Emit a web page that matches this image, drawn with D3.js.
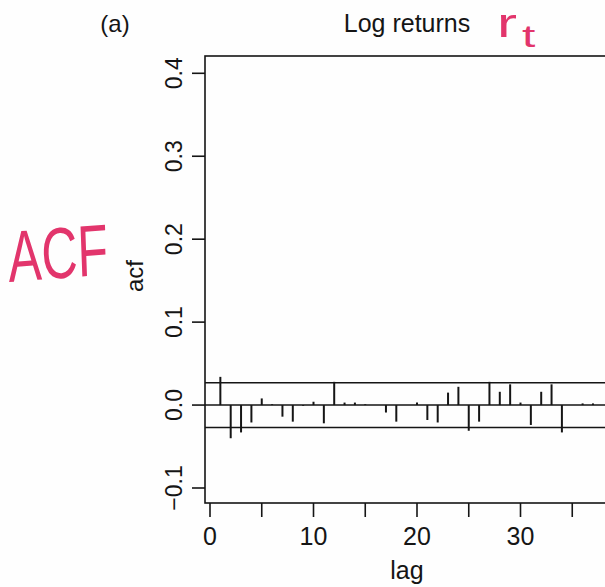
<!DOCTYPE html>
<html>
<head>
<meta charset="utf-8">
<script src="https://cdn.jsdelivr.net/npm/d3@7"></script>
<style>
  html, body { margin: 0; padding: 0; background: #fefefe; }
  svg { display: block; }
  text { font-family: "Liberation Sans", Arial, Helvetica, sans-serif; fill: #151515; }
</style>
</head>
<body>
<svg id="chart" width="605" height="587"></svg>
<script>
// Sample autocorrelations of daily log returns, lags 1..38
const lags = [1, 2, 3, 4, 5, 6, 7, 8, 9, 10,
              11, 12, 13, 14, 15, 16, 17, 18, 19, 20,
              21, 22, 23, 24, 25, 26, 27, 28, 29, 30,
              31, 32, 33, 34, 35, 36, 37, 38];
const acfValues = [0.034, -0.040, -0.033, -0.021, 0.008, 0.001, -0.014, -0.020, -0.001, 0.004,
                   -0.022, 0.028, 0.003, 0.003, 0.001, 0.000, -0.009, -0.020, 0.000, 0.003,
                   -0.018, -0.021, 0.015, 0.022, -0.031, -0.020, 0.028, 0.016, 0.025, 0.003,
                   -0.024, 0.016, 0.025, -0.033, 0.000, 0.002, 0.002, 0.000];
// Approximate 95% white-noise band (±2/sqrt(n))
const confBand = 0.027;
const yTicks = [-0.1, 0.0, 0.1, 0.2, 0.3, 0.4];
const xTicks = [0, 5, 10, 15, 20, 25, 30, 35];
const xTickLabels = [0, 10, 20, 30];

const svg = d3.select("#chart");
const ink = "#151515";

const box = { left: 205, top: 56, right: 640, bottom: 503 };

const x = d3.scaleLinear().domain([0, 40]).range([210, 624]);
const y = d3.scaleLinear().domain([-0.1, 0.4]).range([488, 73.3]);

// plot frame
svg.append("rect")
  .attr("x", box.left).attr("y", box.top)
  .attr("width", box.right - box.left).attr("height", box.bottom - box.top)
  .attr("fill", "none").attr("stroke", ink).attr("stroke-width", 1.6);

// y axis: ticks on the left of the frame, rotated labels
const yAxis = svg.append("g");
yAxis.selectAll("line").data(yTicks).join("line")
  .attr("x1", box.left - 13).attr("x2", box.left)
  .attr("y1", d => y(d)).attr("y2", d => y(d))
  .attr("stroke", ink).attr("stroke-width", 1.6);
const fmt = d3.format(".1f");
yAxis.selectAll("text").data(yTicks).join("text")
  .attr("transform", d => `translate(182,${y(d)}) rotate(-90)`)
  .attr("text-anchor", "middle")
  .attr("font-size", 23)
  .text(d => fmt(d));

// x axis: ticks below the frame
const xAxis = svg.append("g");
xAxis.selectAll("line").data(xTicks).join("line")
  .attr("x1", d => x(d)).attr("x2", d => x(d))
  .attr("y1", box.bottom).attr("y2", box.bottom + 14)
  .attr("stroke", ink).attr("stroke-width", 1.6);
xAxis.selectAll("text").data(xTickLabels).join("text")
  .attr("x", d => x(d)).attr("y", 545)
  .attr("text-anchor", "middle")
  .attr("font-size", 25)
  .text(d => d);

// zero line and confidence band
[0, confBand, -confBand].forEach(v => {
  svg.append("line")
    .attr("x1", box.left).attr("x2", box.right)
    .attr("y1", y(v)).attr("y2", y(v))
    .attr("stroke", ink).attr("stroke-width", 1.5);
});

// autocorrelation spikes
svg.append("g").selectAll("line").data(lags.map((l, i) => [l, acfValues[i]])).join("line")
  .attr("x1", d => x(d[0])).attr("x2", d => x(d[0]))
  .attr("y1", y(0)).attr("y2", d => y(d[1]))
  .attr("stroke", ink).attr("stroke-width", 2);

// titles and axis labels
svg.append("text").attr("x", 115).attr("y", 32).attr("text-anchor", "middle")
  .attr("font-size", 24).text("(a)");
svg.append("text").attr("x", 407).attr("y", 32).attr("text-anchor", "middle")
  .attr("font-size", 25).text("Log returns");
svg.append("text").attr("x", 407).attr("y", 579).attr("text-anchor", "middle")
  .attr("font-size", 25).text("lag");
svg.append("text").attr("transform", "translate(143,276) rotate(-90)")
  .attr("text-anchor", "middle").attr("font-size", 24).text("acf");

// pen notes in pink
const pen = "#e2356c";
svg.append("text")
  .attr("transform", "translate(9,282) scale(1,1.45) rotate(-3)")
  .attr("font-size", 50).style("fill", pen)
  .text("ACF");
svg.append("text")
  .attr("transform", "translate(497,37) scale(1.5,1)")
  .attr("font-size", 40).style("fill", pen)
  .text("r");
svg.append("text")
  .attr("transform", "translate(522,47) scale(1.5,1)")
  .attr("font-size", 32).style("fill", pen)
  .text("t");
</script>
</body>
</html>
